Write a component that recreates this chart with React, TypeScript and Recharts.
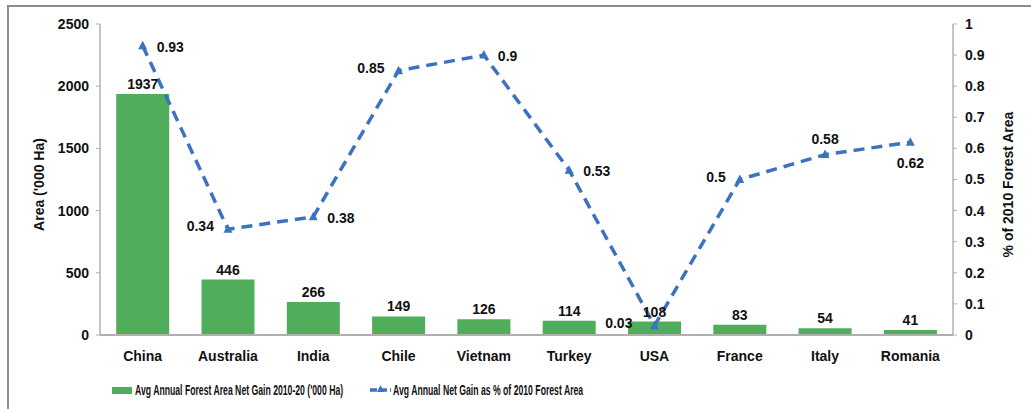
import {
  ComposedChart, Bar, Line, XAxis, YAxis, Legend, LabelList,
} from 'recharts'

const countries = ['China', 'Australia', 'India', 'Chile', 'Vietnam', 'Turkey', 'USA', 'France', 'Italy', 'Romania']
const areaGain = [1937, 446, 266, 149, 126, 114, 108, 83, 54, 41]
const pctGain = [0.93, 0.34, 0.38, 0.85, 0.9, 0.53, 0.03, 0.5, 0.58, 0.62]
const leftTicks = [0, 500, 1000, 1500, 2000, 2500]
const rightTicks = [0, 0.1, 0.2, 0.3, 0.4, 0.5, 0.6, 0.7, 0.8, 0.9, 1]

// where each line value label sits relative to its point
const pctLabelSide = ['right', 'left', 'right', 'left', 'right', 'right', 'left', 'left', 'top', 'bottom']

const data = countries.map((c, i) => ({ country: c, area: areaGain[i], pct: pctGain[i] }))

const FONT = "'Liberation Sans', Arial, sans-serif"
const GREEN = '#4fad5b'
const BLUE = '#3b73c0'
const AXIS = '#b0b0b0'

const tickStyle = { fontSize: 14, fontWeight: 700, fill: '#111', fontFamily: FONT }

function Triangle(props: any) {
  const { cx, cy } = props
  if (cx == null || cy == null) return null
  return <polygon points={`${cx},${cy - 5} ${cx - 4.5},${cy + 3.5} ${cx + 4.5},${cy + 3.5}`} fill={BLUE} />
}

function PctLabel(props: any) {
  const { x, y, value, index } = props
  const side = pctLabelSide[index]
  let tx = x, ty = y, anchor: 'start' | 'end' | 'middle' = 'middle'
  if (side === 'right') { tx = x + 14; anchor = 'start'; ty = y + 1 }
  if (side === 'left') { tx = x - (index === 6 ? 22 : 14); anchor = 'end'; ty = y - 3 }
  if (side === 'top') { ty = y - 16 }
  if (side === 'bottom') { ty = y + 21 }
  return (
    <text x={tx} y={ty} textAnchor={anchor} dominantBaseline="central"
      style={{ fontSize: 14, fontWeight: 700, fill: '#111', fontFamily: FONT }}>
      {value}
    </text>
  )
}

function AxisTitle({ viewBox, value, cx }: any) {
  const cy = viewBox.y + viewBox.height / 2 + 5
  return (
    <text x={cx} y={cy} transform={`rotate(-90, ${cx}, ${cy})`} textAnchor="middle" dominantBaseline="central"
      style={{ fontSize: 14, fontWeight: 700, fill: '#111', fontFamily: FONT }}>
      {value}
    </text>
  )
}

// legend text in the source is squeezed horizontally
function LegendBox() {
  const txt = { fontSize: 14, fontWeight: 700, fill: '#111', fontFamily: FONT }
  return (
    <svg width={1031} height={30} style={{ display: 'block' }}>
      <rect x={112} y={12} width={20} height={7} fill={GREEN} />
      <text transform="translate(135,15) scale(0.62,1)" x={0} y={0} dominantBaseline="central" style={txt}>
        Avg Annual Forest Area Net Gain 2010-20 ('000 Ha)
      </text>
      <line x1={370} y1={15} x2={391} y2={15} stroke={BLUE} strokeWidth={3.5} strokeDasharray="7 3" />
      <polygon points="380.5,10 377,17 384,17" fill={BLUE} />
      <text transform="translate(393,15) scale(0.62,1)" x={0} y={0} dominantBaseline="central" style={txt}>
        Avg Annual Net Gain as % of 2010 Forest Area
      </text>
    </svg>
  )
}

export default function App() {
  return (
    <div style={{ position: 'fixed', left: 0, top: 0, width: 1031, height: 409, background: '#fff', fontFamily: FONT }}>
      <div style={{ position: 'absolute', left: 7, top: 5, right: -4, bottom: -4, borderLeft: '2px solid #8c8c8c', borderTop: '2px solid #8c8c8c' }} />
      <ComposedChart width={1031} height={409} data={data} barCategoryGap="19%"
        margin={{ top: 24, right: 8, bottom: 4, left: 0 }}>
        <XAxis dataKey="country" tickLine={false} height={40} tickMargin={10}
          axisLine={{ stroke: AXIS, strokeWidth: 2 }} tick={tickStyle} interval={0} />
        <YAxis yAxisId="left" width={100} domain={[0, 2500]} ticks={leftTicks}
          axisLine={{ stroke: AXIS, strokeWidth: 1.5 }} tickLine={{ stroke: AXIS }} tickSize={4} tickMargin={7}
          tick={tickStyle}
          label={{ value: "Area ('000 Ha)", content: (p: any) => <AxisTitle {...p} value="Area ('000 Ha)" cx={39} /> }} />
        <YAxis yAxisId="right" orientation="right" width={70} domain={[0, 1]} ticks={rightTicks}
          axisLine={{ stroke: AXIS, strokeWidth: 1.5 }} tickLine={{ stroke: AXIS }} tickSize={4} tickMargin={8}
          tick={tickStyle}
          label={{ value: '% of 2010 Forest Area', content: (p: any) => <AxisTitle {...p} value="% of 2010 Forest Area" cx={1008} /> }} />
        <Bar yAxisId="left" dataKey="area" fill={GREEN} isAnimationActive={false}>
          <LabelList dataKey="area" position="top" offset={5}
            style={{ fontSize: 14, fontWeight: 700, fill: '#111', fontFamily: FONT }} />
        </Bar>
        <Line yAxisId="right" dataKey="pct" type="linear" stroke={BLUE} strokeWidth={3.5} strokeDasharray="11 7"
          dot={<Triangle />} activeDot={false} isAnimationActive={false}>
          <LabelList dataKey="pct" content={<PctLabel />} />
        </Line>
        <Legend verticalAlign="bottom" height={30} wrapperStyle={{ left: 0, width: 1031 }} content={() => <LegendBox />} />
      </ComposedChart>
    </div>
  )
}
